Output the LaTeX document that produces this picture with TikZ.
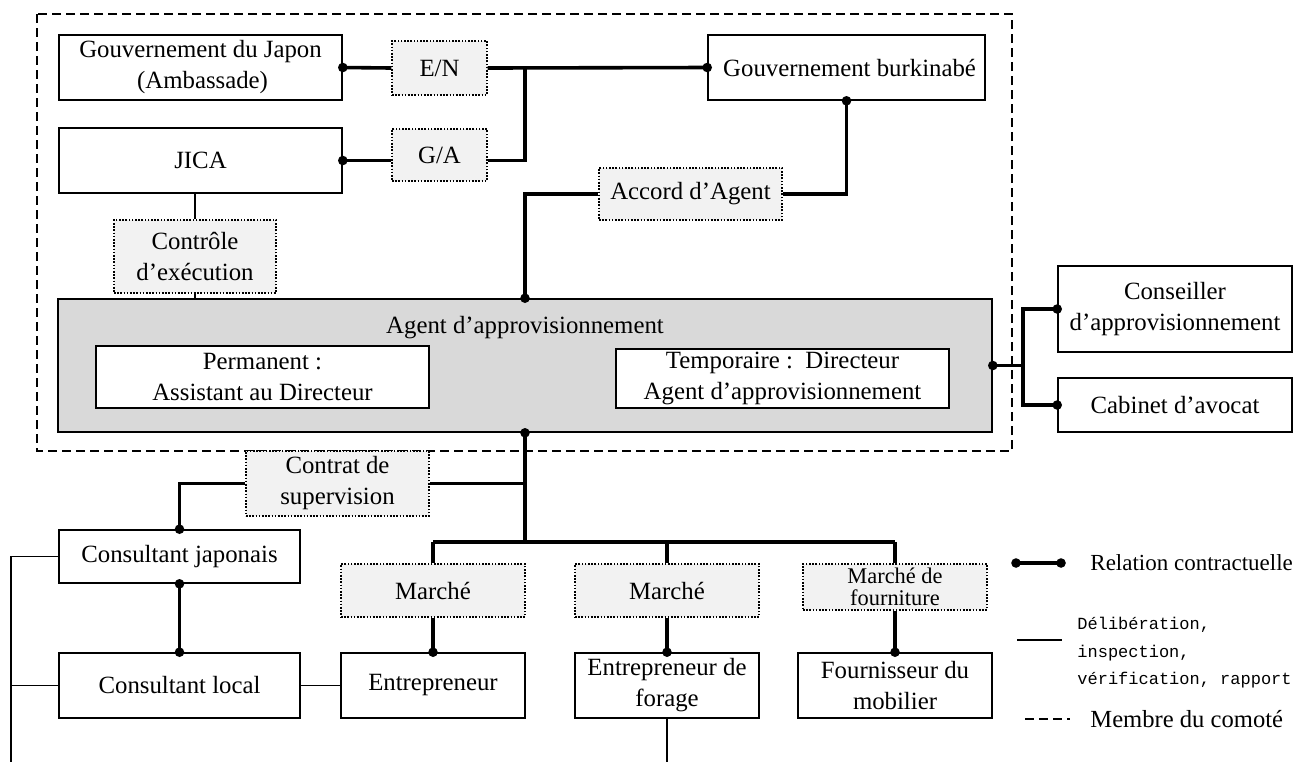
\documentclass[tikz,border=0pt]{standalone}
\usepackage{fontspec}
\setmainfont{Liberation Serif}
\newfontfamily\legendmono{Liberation Mono}
\usepackage{tikz}

\definecolor{tagfill}{HTML}{F2F2F2}
\definecolor{agentfill}{HTML}{D9D9D9}

\tikzset{
  box/.style={draw, line width=0.8pt, fill=white, align=center, inner sep=1pt},
  tag/.style={draw, line width=0.7pt, dash pattern=on 0.8pt off 0.8pt,
    fill=tagfill, align=center, inner sep=1pt},
  sz/.style 2 args={minimum width=#1*0.5pt, minimum height=#2*0.5pt},
  contract/.style={line width=1.8pt},
  report/.style={line width=0.8pt},
  committee/.style={line width=0.65pt, dash pattern=on 4.5pt off 2.5pt}
}

\begin{document}
\begin{tikzpicture}[x=0.5pt, y=-0.5pt, font=\fontsize{12.4}{15.5}\selectfont]
    \useasboundingbox (0,0) rectangle (1294,762);
    % committee frame
    \draw[committee] (37,14) rectangle (1012,451);
    % upper part
    \node[box, sz={283}{65}] (jp) at (200.5,67.5) {Gouvernement du Japon\\\,(Ambassade)};
    \node[tag, sz={95}{54}] (en) at (439.5,68) {E/N};
    \node[box, sz={283}{65}] (jica) at (200.5,160.5) {JICA};
    \node[tag, sz={95}{52}] (ga) at (439.5,155) {G/A};
    \node[box, sz={277}{65}] (bf) at (846.5,67.5) {\ Gouvernement burkinabé};
    \node[tag, sz={183}{52}] (accord) at (690.5,194) {Accord d’Agent};
    \node[tag, sz={162}{73}] (ctrl) at (195,256.5) {Contrôle\\d’exécution};
    % procurement agent
    \node[box, fill=agentfill, sz={934}{133}] (agent) at (525,365.5) {};
    \node (agtitle) at (525,328) {Agent d’approvisionnement};
    \node[box, sz={333}{62}] (perm) at (262.5,377) {Permanent :\\Assistant au Directeur};
    \node[box, sz={333}{59}] (temp) at (782.5,378.5) {Temporaire :\ \ Directeur\\Agent d’approvisionnement};
    \node[box, sz={234}{86}] (cons) at (1175,309) {Conseiller\\d’approvisionnement};
    \node[box, sz={234}{54}] (cab) at (1175,405) {Cabinet d’avocat};
    % lower part
    \node[tag, sz={183}{65}] (contrat) at (337.5,483.5) {Contrat de\\supervision};
    \node[box, sz={241}{53}] (cjp) at (179.5,556.5) {Consultant japonais};
    \node[box, sz={241}{65}] (cloc) at (179.5,685.5) {Consultant local};
    \node[tag, sz={184}{53}] (m1) at (433,590.5) {Marché};
    \node[box, sz={184}{65}] (ent) at (433,685.5) {Entrepreneur};
    \node[tag, sz={184}{53}] (m2) at (667,590.5) {Marché};
    \node[box, sz={184}{65}] (forage) at (667,685.5) {Entrepreneur de\\forage};
    \node[tag, sz={184}{46}, inner sep=0pt, font=\fontsize{11.2}{11}\selectfont] (m3) at (895,587) {Marché de\\fourniture};
    \node[box, sz={194}{65}] (four) at (895,685.5) {Fournisseur du\\mobilier};

    % contractual relations
    \coordinate (jn) at (525,68);
    \draw[contract] (jp.east) -- (en.west);
    \draw[contract] (en.east) -- (bf.west);
    \draw[contract] (jica.east) -- (jica.east -| ga.west);
    \draw[contract] (jica.east -| ga.east) -| (jn);
    \draw[contract] (bf.south) |- (accord.east);
    \draw[contract] (accord.west) -| (agent.north);
    \coordinate (rj) at (1023,365.5);
    \draw[contract] (agent.east) -- (rj);
    \draw[contract] (cons.west) -| (rj) |- (cab.west);
    \coordinate (bus) at (525,542);
    \draw[contract] (agent.south) -- (bus);
    \draw[contract] (contrat.east) -- (contrat.east -| bus);
    \draw[contract] (contrat.west) -| (cjp.north);
    \draw[contract] (cjp.south) -- (cloc.north);
    \draw[contract] (bus -| m1.north) -- (bus -| m3.north);
    \foreach \m/\e in {m1/ent, m2/forage, m3/four} {
      \draw[contract] (\m.north) -- (\m.north |- bus);
      \draw[contract] (\m.south) -- (\e.north);
    }
    % deliberation, inspection, report
    \draw[report] (ctrl.north) -- (ctrl.north |- jica.south);
    \draw[report] (ctrl.south) -- (ctrl.south |- agent.north);
    \draw[report] (cloc.east) -- (ent.west);
    \coordinate (lb) at (11,762);
    \draw[report] (cjp.west) -| (lb);
    \draw[report] (cloc.west) -- (cloc.west -| lb);
    \coordinate (fb) at (667,762);
    \draw[report] (forage.south) -- (fb);
    % dots
    \foreach \p in {jp.east, jica.east, bf.west, bf.south, agent.north, agent.east,
      cons.west, cab.west, agent.south, cjp.north, cjp.south, cloc.north,
      ent.north, forage.north, four.north}
    \fill (\p) circle (2.4pt);

    % legend
    \coordinate (k1a) at (1016,563);
    \coordinate (k1b) at (1061,563);
    \draw[contract] (k1a) -- (k1b);
    \fill (k1a) circle (2.4pt) (k1b) circle (2.4pt);
    \node[anchor=west, inner sep=0pt, font=\fontsize{11.5}{14}\selectfont] (k1) at (1090,563) {Relation contractuelle};
    \coordinate (k2a) at (1017,640);
    \coordinate (k2b) at (1062,640);
    \draw[report] (k2a) -- (k2b);
    \node[anchor=west, inner sep=0pt, align=left, font=\legendmono\fontsize{8.5}{13.75}\selectfont]
      (k2) at (1077,653) {Délibération,\\inspection,\\vérification, rapport};
    \coordinate (k3a) at (1025,719);
    \coordinate (k3b) at (1070,719);
    \draw[committee] (k3a) -- (k3b);
    \node[anchor=west, inner sep=0pt, font=\fontsize{12.3}{14}\selectfont] (k3) at (1090,719) {Membre du comoté};
\end{tikzpicture}
\end{document}
